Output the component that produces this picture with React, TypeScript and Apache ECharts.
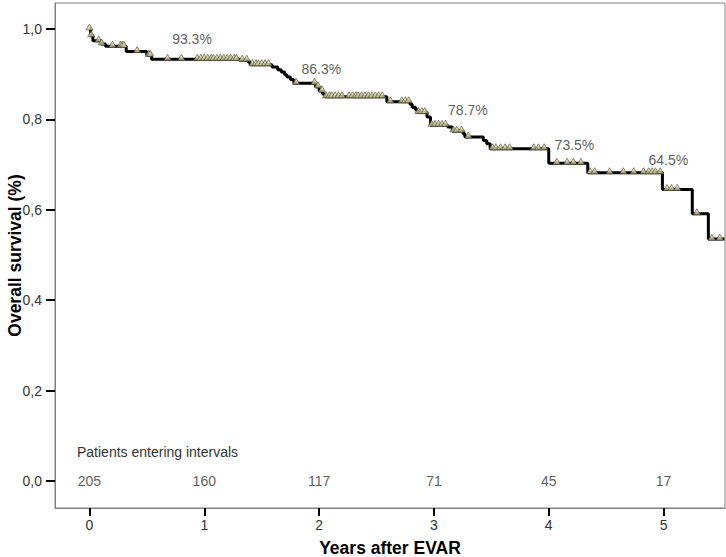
import React, { useEffect, useRef } from "react";
import * as echarts from "echarts";

// Kaplan-Meier event steps (years after EVAR, overall survival)
const eventYears = [0, 0.01, 0.03, 0.1, 0.14, 0.32, 0.5, 0.54, 1.31, 1.38, 1.4, 1.59, 1.64, 1.67, 1.7, 1.72, 1.75, 1.78, 1.97, 2.0, 2.03, 2.05, 2.59, 2.79, 2.81, 2.84, 2.855, 2.94, 2.97, 3.12, 3.16, 3.255, 3.27, 3.43, 3.46, 3.49, 4.0, 4.34, 4.99, 5.25, 5.39];
const eventSurvival = [1.0, 0.985, 0.974, 0.967, 0.962, 0.95, 0.942, 0.933, 0.931, 0.927, 0.921, 0.916, 0.91, 0.905, 0.899, 0.894, 0.888, 0.88, 0.872, 0.863, 0.856, 0.85, 0.839, 0.834, 0.827, 0.821, 0.815, 0.805, 0.787, 0.783, 0.774, 0.768, 0.761, 0.753, 0.746, 0.735, 0.703, 0.682, 0.645, 0.591, 0.535];
const followUpEnd = 5.53;

// Censored observations (years)
const censorYears = [0.0, 0.015, 0.08, 0.105, 0.2, 0.27, 0.285, 0.3, 0.415, 0.516, 0.53, 0.68, 0.8, 0.94, 0.97, 1.0, 1.03, 1.06, 1.08, 1.11, 1.14, 1.17, 1.2, 1.23, 1.26, 1.28, 1.33, 1.37, 1.42, 1.45, 1.47, 1.5, 1.53, 1.56, 1.8, 1.96, 1.99, 2.025, 2.06, 2.09, 2.11, 2.14, 2.17, 2.2, 2.26, 2.29, 2.32, 2.34, 2.37, 2.4, 2.43, 2.46, 2.49, 2.52, 2.55, 2.62, 2.72, 2.75, 2.78, 2.865, 2.895, 2.92, 2.98, 3.01, 3.04, 3.07, 3.1, 3.17, 3.2, 3.24, 3.3, 3.51, 3.54, 3.58, 3.62, 3.66, 3.87, 3.91, 3.96, 4.07, 4.16, 4.215, 4.28, 4.36, 4.4, 4.53, 4.65, 4.74, 4.825, 4.87, 4.9, 4.93, 4.97, 5.03, 5.07, 5.12, 5.29, 5.42, 5.49];

const yearTicks = [0, 1, 2, 3, 4, 5];
const patientsAtRisk = [205, 160, 117, 71, 45, 17];
const survivalTicks = [0, 0.2, 0.4, 0.6, 0.8, 1.0];
const yearlySurvivalText = ["93.3%", "86.3%", "78.7%", "73.5%", "64.5%"];

// anchor points (data coords) of the yearly survival annotations
const annotationX = [0.893, 2.02, 3.296, 4.224, 5.042];
const annotationY = [0.977, 0.911, 0.821, 0.743, 0.709];

const FONT = "'Liberation Sans', Arial, sans-serif";

function survivalAt(t: number): number {
  let s = eventSurvival[0];
  for (let i = 0; i < eventYears.length; i++) {
    if (eventYears[i] <= t) s = eventSurvival[i];
  }
  return s;
}

export default function App() {
  const ref = useRef<HTMLDivElement>(null);
  useEffect(() => {
    if (!ref.current) return;
    const chart = echarts.init(ref.current, undefined, { renderer: "svg" });
    const lineData = eventYears.map((t, i) => [t, eventSurvival[i]]);
    lineData.push([followUpEnd, eventSurvival[eventSurvival.length - 1]]);
    const censorData = censorYears.map((t) => [t, survivalAt(t)]);
    const annData = yearlySurvivalText.map((txt, i) => ({ name: txt, value: [annotationX[i], annotationY[i]] }));
    const riskData = patientsAtRisk.map((n, i) => ({ name: String(n), value: [yearTicks[i], 0] }));

    chart.setOption({
      animation: false,
      backgroundColor: "#ffffff",
      grid: {
        left: 55,
        right: 1,
        top: 3,
        bottom: 49,
        show: true,
        borderColor: "#808080",
        borderWidth: 1,
        containLabel: false,
        outerBoundsMode: "none",
      },
      xAxis: {
        type: "value",
        min: -0.3,
        max: 5.535,
        name: "Years after EVAR",
        nameLocation: "middle",
        nameGap: 31,
        nameMoveOverlap: false,
        nameTextStyle: { fontFamily: FONT, fontWeight: "bold", fontSize: 17.5, color: "#000" },
        axisLine: { show: true, onZero: false, lineStyle: { color: "#808080", width: 1 } },
        axisTick: { show: true, customValues: yearTicks, length: 8, lineStyle: { color: "#000", width: 2 } },
        axisLabel: { customValues: yearTicks, margin: 10, fontFamily: FONT, fontSize: 14, color: "#333" },
        splitLine: { show: false },
      },
      yAxis: {
        type: "value",
        min: -0.06,
        max: 1.0575,
        name: "Overall survival (%)",
        nameLocation: "middle",
        nameGap: 31,
        nameMoveOverlap: false,
        nameTextStyle: { fontFamily: FONT, fontWeight: "bold", fontSize: 17.5, color: "#000" },
        axisLine: { show: true, onZero: false, lineStyle: { color: "#808080", width: 1 } },
        axisTick: { show: true, customValues: survivalTicks, length: 9, lineStyle: { color: "#000", width: 2 } },
        axisLabel: {
          customValues: survivalTicks,
          margin: 13,
          fontFamily: FONT,
          fontSize: 14,
          color: "#333",
          formatter: (v: number) => v.toFixed(1).replace(".", ","),
        },
        splitLine: { show: false },
      },
      graphic: [
        {
          type: "text",
          left: 77,
          top: 445,
          style: { text: "Patients entering intervals", fontFamily: FONT, fontSize: 14, fill: "#333" },
        },
      ],
      series: [
        {
          type: "line",
          step: "end",
          data: lineData,
          showSymbol: false,
          lineStyle: { color: "#000", width: 3 },
          z: 2,
        },
        {
          type: "scatter",
          data: censorData,
          symbol: "triangle",
          symbolSize: [7, 6],
          symbolOffset: [0, -2],
          itemStyle: { color: "#d6d1a0", borderColor: "#3a3a2a", borderWidth: 0.7 },
          z: 3,
        },
        {
          type: "scatter",
          data: annData,
          symbolSize: 0,
          label: {
            show: true,
            position: "inside",
            formatter: (p: any) => p.name,
            fontFamily: FONT,
            fontSize: 14,
            color: "#333",
          },
          z: 4,
        },
        {
          type: "scatter",
          data: riskData,
          symbolSize: 0,
          label: {
            show: true,
            position: "inside",
            formatter: (p: any) => p.name,
            fontFamily: FONT,
            fontSize: 14,
            color: "#333",
          },
          z: 4,
        },
      ],
    });
    return () => chart.dispose();
  }, []);
  return <div ref={ref} style={{ position: "fixed", left: 0, top: 0, width: 726, height: 557 }} />;
}
